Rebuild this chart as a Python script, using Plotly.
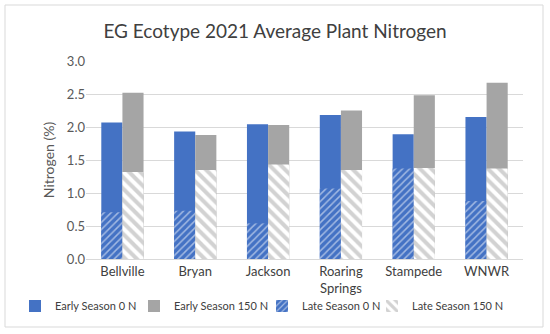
import plotly.graph_objects as go

sites = ["Bellville", "Bryan", "Jackson", "Roaring<br>Springs", "Stampede", "WNWR"]
early_0n = [2.07, 1.93, 2.04, 2.18, 1.89, 2.15]
early_150n = [2.52, 1.88, 2.03, 2.25, 2.48, 2.67]
late_0n = [0.71, 0.73, 0.54, 1.07, 1.37, 0.88]
late_150n = [1.32, 1.35, 1.43, 1.35, 1.38, 1.37]

BLUE = "#4472C4"
GRAY = "#A5A5A5"
W = 0.29
FONT = "Lato"

fig = go.Figure()
fig.add_trace(go.Bar(x=sites, y=early_0n, name="Early Season 0 N", width=W, offset=-W,
                     legend="legend", showlegend=True,
                     marker=dict(color=BLUE, line=dict(width=0))))
fig.add_trace(go.Bar(x=sites, y=early_150n, name="Early Season 150 N", width=W, offset=0,
                     legend="legend2", showlegend=True,
                     marker=dict(color=GRAY, line=dict(width=0))))
fig.add_trace(go.Bar(x=sites, y=late_0n, name="Late Season 0 N", width=W, offset=-W,
                     legend="legend3", showlegend=True,
                     marker=dict(color=BLUE, line=dict(width=0),
                                 pattern=dict(shape="/", fgcolor="white", bgcolor=BLUE,
                                              size=5, solidity=0.3, fillmode="overlay"))))
fig.add_trace(go.Bar(x=sites, y=late_150n, name="Late Season 150 N", width=W, offset=0,
                     legend="legend4", showlegend=True,
                     marker=dict(color="white", line=dict(width=0),
                                 pattern=dict(shape="\\", fgcolor=GRAY, bgcolor="white",
                                              size=8, solidity=0.5, fillmode="overlay"))))


def leg(xpx):
    return dict(orientation="h", xref="container", x=xpx / 550, xanchor="left",
                yref="container", y=(334 - 306) / 334, yanchor="middle",
                bgcolor="rgba(0,0,0,0)", borderwidth=0, visible=True,
                font=dict(size=11, color="#404040", family=FONT), itemwidth=30)


fig.update_layout(
    width=550, height=334,
    barmode="overlay", showlegend=True,
    paper_bgcolor="white", plot_bgcolor="white",
    margin=dict(l=86, r=27, t=61, b=75, autoexpand=False),
    font=dict(family=FONT, size=13, color="#595959"),
    title=dict(text="EG Ecotype 2021 Average Plant Nitrogen", x=0.5, xanchor="center",
               y=0.905, yanchor="middle", font=dict(size=19, color="#404040", family=FONT)),
    legend=leg(15), legend2=leg(134), legend3=leg(262), legend4=leg(372),
    shapes=[dict(type="rect", xref="paper", yref="paper",
                 x0=-81/437, x1=1 + 20/437, y0=-68/198, y1=1 + 56/198,
                 line=dict(color="#D9D9D9", width=1))],
)
fig.update_yaxes(range=[0, 3.0], dtick=0.5, tickformat=".1f", showgrid=True,
                 gridcolor="#D9D9D9", zeroline=False, showline=False, automargin=False,
                 title=dict(text="Nitrogen (%)", font=dict(size=14, color="#595959"), standoff=8),
                 tickfont=dict(size=13, color="#595959"))
fig.update_xaxes(showline=True, linecolor="#D9D9D9", linewidth=1, ticks="", automargin=False,
                 tickfont=dict(size=13, color="#404040"))

fig.write_html("out.html", config={"displayModeBar": False},
               post_script="document.body.style.margin='0px';")
